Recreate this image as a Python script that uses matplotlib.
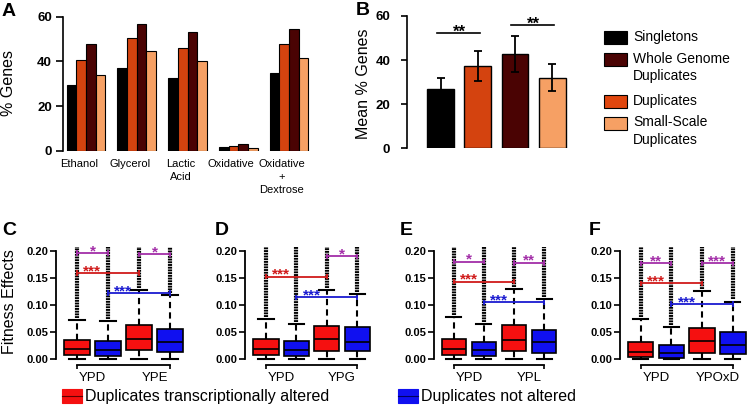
import matplotlib.pyplot as plt
import matplotlib.patches as mpatches
import numpy as np

plt.rcParams['font.family'] = ['Liberation Sans', 'DejaVu Sans']

W, H = 747, 413
fig = plt.figure(figsize=(W / 100, H / 100), dpi=100)


def add_ax(left, top, width, height):
    # axes placed in pixel units of the 747x413 canvas
    return fig.add_axes([left / W, 1 - (top + height) / H, width / W, height / H])


def px(x, y):
    return x / W, 1 - y / H


# ---------------- data ----------------
conditions = ['Ethanol', 'Glycerol', 'Lactic\nAcid', 'Oxidative', 'Oxidative\n+\nDextrose']
group_colors = ['#000000', '#d4430f', '#4a0303', '#f6a064']  # singletons, dup, wgd, ssd
pct_singletons = [29.4, 36.9, 32.4, 1.5, 34.8]
pct_duplicates = [40.6, 50.6, 46.1, 2.0, 47.8]
pct_wgd = [47.9, 56.9, 53.0, 3.0, 54.6]
pct_ssd = [33.9, 44.8, 40.3, 1.2, 41.5]

mean_pct = [26.7, 37.3, 42.7, 32.0]
mean_err = [5.0, 6.9, 8.3, 6.2]
mean_sig = [(0, 1, 52.3, '**'), (2, 3, 55.9, '**')]

legend_labels = ['Singletons', 'Whole Genome\nDuplicates', 'Duplicates', 'Small-Scale\nDuplicates']
legend_colors = ['#000000', '#4a0303', '#e0460e', '#f6a064']

panel_letters = ['C', 'D', 'E', 'F']
media = ['YPE', 'YPG', 'YPL', 'YPOxD']
# boxes per panel: red YPD, blue YPD, red medium, blue medium
box_med = [[0.017, 0.015, 0.036, 0.031],
           [0.018, 0.015, 0.036, 0.030],
           [0.0185, 0.0166, 0.035, 0.0307],
           [0.013, 0.011, 0.032, 0.0246]]
box_q1 = [[0.006, 0.004, 0.0155, 0.0123],
          [0.0073, 0.0055, 0.0147, 0.0134],
          [0.0074, 0.005, 0.014, 0.0104],
          [0.003, 0.001, 0.011, 0.008]]
box_q3 = [[0.0353, 0.032, 0.062, 0.0557],
          [0.036, 0.033, 0.0605, 0.058],
          [0.0356, 0.0307, 0.0615, 0.0535],
          [0.0307, 0.0246, 0.057, 0.049]]
box_whishi = [[0.071, 0.070, 0.128, 0.118],
              [0.073, 0.064, 0.128, 0.120],
              [0.077, 0.0646, 0.129, 0.111],
              [0.0726, 0.058, 0.125, 0.106]]
outlier_top = 0.208
box_colors = ['#f51010', '#1010f0', '#f51010', '#1010f0']

purple, red, blue = '#a32ea8', '#d01a1a', '#1a1ad0'
sig_bars = [
    [(1, 2, 0.196, '*', purple), (3, 4, 0.194, '*', purple), (1, 3, 0.159, '***', red), (2, 4, 0.122, '***', blue)],
    [(3, 4, 0.190, '*', purple), (1, 3, 0.152, '***', red), (2, 4, 0.114, '***', blue)],
    [(1, 2, 0.180, '*', purple), (3, 4, 0.178, '**', purple), (1, 3, 0.1427, '***', red), (2, 4, 0.1046, '***', blue)],
    [(1, 2, 0.177, '**', purple), (3, 4, 0.177, '***', purple), (1, 3, 0.140, '***', red), (2, 4, 0.1015, '***', blue)],
]
bottom_labels = ['Duplicates transcriptionally altered', 'Duplicates not altered']

# ---------------- panel A ----------------
axA = add_ax(63, 16.7, 251.4, 134)
x = np.arange(len(conditions))
bw = 0.19
for i, (vals, c) in enumerate(zip([pct_singletons, pct_duplicates, pct_wgd, pct_ssd], group_colors)):
    axA.bar(x + (i - 1.5) * bw, vals, bw, color=c, edgecolor='black', linewidth=0.8)
axA.set_xlim(-0.453, 4.5)
axA.set_ylim(0, 60)
axA.set_yticks([0, 20, 40, 60])
# labels sit a little left of the group centres in the original
axA.set_xticks(x - 0.14)
axA.set_xticklabels(conditions, fontsize=8, linespacing=1.35, va='top')
axA.tick_params(axis='x', length=0, pad=6)
axA.tick_params(axis='y', length=5, width=1.2, pad=3, labelsize=9.5)
for lab in axA.get_yticklabels():
    lab.set_fontweight('bold')
for s in ['top', 'right', 'bottom']:
    axA.spines[s].set_visible(False)
axA.spines['left'].set_linewidth(1.2)

# ---------------- panel B ----------------
axB = add_ax(407, 16, 162, 132.3)
xb = np.arange(len(mean_pct))
axB.bar(xb, mean_pct, 0.72, color=group_colors, edgecolor='black', linewidth=1)
axB.errorbar(xb, mean_pct, yerr=mean_err, fmt='none', ecolor='black', elinewidth=1.3,
             capsize=3, capthick=1.3)
for a, b, y, s in mean_sig:
    axB.plot([a - 0.1, b + 0.05], [y, y], color='black', lw=1.2, clip_on=False)
    axB.annotate(s, ((a + b) / 2, y), xytext=(0, -2.5), textcoords='offset points',
                 ha='center', va='baseline', fontsize=12, fontweight='bold', annotation_clip=False)
axB.set_xlim(-0.9, 3.45)
axB.set_ylim(0, 60)
axB.set_yticks([0, 20, 40, 60])
axB.set_xticks([])
axB.tick_params(axis='y', length=4, width=1.2, pad=8, labelsize=9.5)
for lab in axB.get_yticklabels():
    lab.set_fontweight('bold')
for s in ['top', 'right', 'bottom']:
    axB.spines[s].set_visible(False)
axB.spines['left'].set_linewidth(1.2)

# right legend
leg_y = [37, 59.5, 101, 123]
for lab, c, yc in zip(legend_labels, legend_colors, leg_y):
    fig.add_artist(mpatches.Rectangle(px(604, yc + 6.5), 23 / W, 13 / H, facecolor=c,
                                      edgecolor='black', linewidth=0.8))
    fig.text(*px(633, yc - 7.5), lab, fontsize=10, va='top', ha='left', linespacing=1.3)

# ---------------- panels C-F ----------------
panel_geo = [(77, 31), (266, 30.4), (454, 30), (640.7, 30.7)]
pos = np.array([1, 2, 3, 4])
for k in range(4):
    p1, sp = panel_geo[k]
    ax = add_ax(p1 - 0.68 * sp, 245.6, 4.13 * sp, 119.4)
    stats = []
    for j in range(4):
        stats.append(dict(med=box_med[k][j], q1=box_q1[k][j], q3=box_q3[k][j],
                          whislo=0.0, whishi=box_whishi[k][j], fliers=[]))
    # outliers: dense column of points above the upper whisker
    ax.vlines(pos, np.array(box_whishi[k]) + 0.004, outlier_top, colors='black',
              lw=3.0, linestyles=(0, (0.45, 0.2)), zorder=1)
    bp = ax.bxp(stats, positions=pos, widths=0.83, patch_artist=True,
                capwidths=0.5, showfliers=False,
                boxprops=dict(edgecolor='black', linewidth=1.2),
                whiskerprops=dict(color='black', linewidth=1.5, linestyle=(0, (3, 2))),
                capprops=dict(color='black', linewidth=1.5),
                medianprops=dict(color='black', linewidth=1.2))
    for patch, c in zip(bp['boxes'], box_colors):
        patch.set_facecolor(c)
        patch.set_zorder(3)
    for med in bp['medians']:
        med.set_zorder(3.5)
    for a, b, y, s, c in sig_bars[k]:
        ax.plot([a, b], [y, y], color=c, lw=1.3, zorder=4)
        ax.vlines([a, b], y - 0.005, y + 0.005, colors=c, lw=1.3, zorder=4)
        if c == purple:
            ax.annotate(s, ((a + b) / 2, y), xytext=(0, -1.5), textcoords='offset points',
                        ha='center', va='baseline', color=c, fontsize=11, fontweight='bold')
        else:
            ax.annotate(s, (a + 0.2, y), xytext=(0, -1.5), textcoords='offset points',
                        ha='left', va='baseline', color=c, fontsize=11, fontweight='bold')
    ax.set_xlim(0.32, 4.45)
    ax.set_ylim(-0.012, 0.21)
    ax.set_yticks([0, 0.05, 0.10, 0.15, 0.20])
    ax.set_yticklabels(['0.00', '0.05', '0.10', '0.15', '0.20'])
    ax.set_xticks([1.5, 3.5])
    ax.set_xticklabels(['YPD', media[k]], fontsize=9.5)
    ax.set_xticks([1, 4], minor=True)
    ax.tick_params(axis='x', which='major', length=0, pad=5)
    ax.tick_params(axis='x', which='minor', length=3, width=1.2)
    ax.tick_params(axis='y', length=4, width=1.2, pad=1.5, labelsize=8)
    for lab in ax.get_yticklabels():
        lab.set_fontweight('bold')
    for s in ['top', 'right']:
        ax.spines[s].set_visible(False)
    ax.spines['left'].set_bounds(0, 0.2)
    ax.spines['bottom'].set_bounds(1, 4)
    ax.spines['left'].set_linewidth(1.3)
    ax.spines['bottom'].set_linewidth(1.3)

# bottom legend
for lab, c, xp in zip(bottom_labels, [box_colors[0], box_colors[1]], [62, 398]):
    fig.add_artist(mpatches.Rectangle(px(xp, 403), 20 / W, 14 / H, facecolor=c,
                                      edgecolor=c, linewidth=0.8))
    fig.add_artist(plt.Line2D([xp / W, (xp + 20) / W], [1 - 396 / H] * 2,
                              color='#600000' if c == box_colors[0] else '#000060', lw=0.8))
    fig.text(*px(xp + 23, 396), lab, fontsize=11.5, va='center', ha='left')

# labels and panel letters
fig.text(*px(8.5, 82.5), '% Genes', rotation=90, ha='center', va='center', fontsize=11.5)
fig.text(*px(363.5, 83.5), 'Mean % Genes', rotation=90, ha='center', va='center', fontsize=11.5)
fig.text(*px(10, 301.7), 'Fitness Effects', rotation=90, ha='center', va='center', fontsize=11.5)
for lett, (xx, yy) in zip(['A', 'B', 'C', 'D', 'E', 'F'],
                          [(8.5, 11.5), (362.5, 10.5), (9.5, 230.5), (221.5, 230), (406, 230), (595, 230)]):
    fig.text(*px(xx, yy), lett, fontsize=14, fontweight='bold', ha='center', va='center')

fig.savefig('out.png', dpi=100)
